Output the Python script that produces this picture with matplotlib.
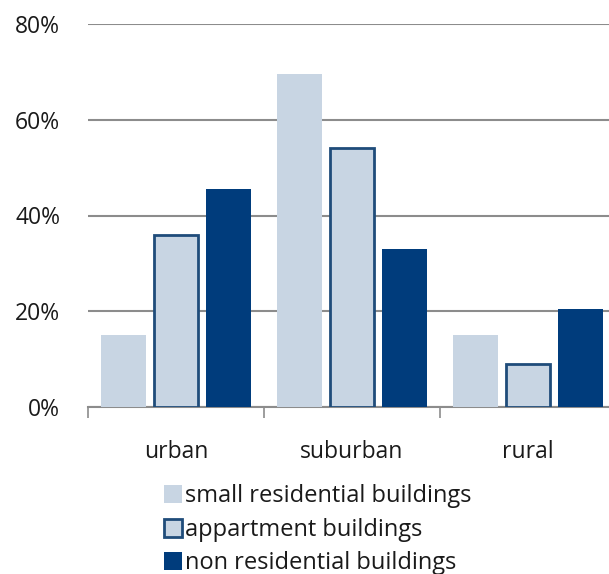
import matplotlib.pyplot as plt
from matplotlib.ticker import PercentFormatter
import numpy as np

plt.rcParams['font.family'] = ['Open Sans', 'DejaVu Sans']

categories = ["urban", "suburban", "rural"]
series = ["small residential buildings", "appartment buildings", "non residential buildings"]
small_res = [0.15, 0.695, 0.15]
appartment = [0.36, 0.54, 0.09]
non_res = [0.455, 0.33, 0.205]

light = "#c8d5e3"
dark = "#003c7c"
edge = "#1f4c7a"

fig = plt.figure(figsize=(6.09, 5.74), dpi=100)
ax = fig.add_axes([88 / 609, 1 - 407 / 574, 528 / 609, 383 / 574])

x = np.arange(len(categories))
w = 0.255
ax.bar(x - 0.3, small_res, w, color=light, label=series[0], zorder=3)
ax.bar(x, appartment, w, color=light, edgecolor=edge, linewidth=2, label=series[1], zorder=3)
ax.bar(x + 0.3, non_res, w, color=dark, label=series[2], zorder=3)

ax.set_xlim(-0.5, 2.5)
ax.set_ylim(0, 0.8)
ax.set_yticks([0, 0.2, 0.4, 0.6, 0.8])
ax.yaxis.set_major_formatter(PercentFormatter(1.0, decimals=0))
ax.yaxis.grid(True, color="#8c8c8c", linewidth=1.5, zorder=0)
ax.tick_params(axis="y", length=0, pad=20, labelsize=16.5, labelcolor="#1a1a1a")

ax.set_xticks(x)
ax.set_xticklabels(categories)
ax.set_xticks([-0.5, 0.5, 1.5, 2.5], minor=True)
ax.tick_params(axis="x", which="major", length=0, pad=24, labelsize=16.5, labelcolor="#1a1a1a")
ax.tick_params(axis="x", which="minor", length=8, width=1.2, color="#8c8c8c")

for s in ["top", "right", "left"]:
    ax.spines[s].set_visible(False)
ax.spines["bottom"].set_color("#8c8c8c")
ax.spines["bottom"].set_linewidth(1.5)

leg = fig.legend(loc="upper left", bbox_to_anchor=(155 / 609, 1 - 475 / 574), frameon=False,
                 fontsize=17, handlelength=0.75, handleheight=0.8, handletextpad=0.1,
                 labelspacing=0.4, borderaxespad=0)
for t in leg.get_texts():
    t.set_color("#1a1a1a")

fig.savefig("out.png", dpi=100)
